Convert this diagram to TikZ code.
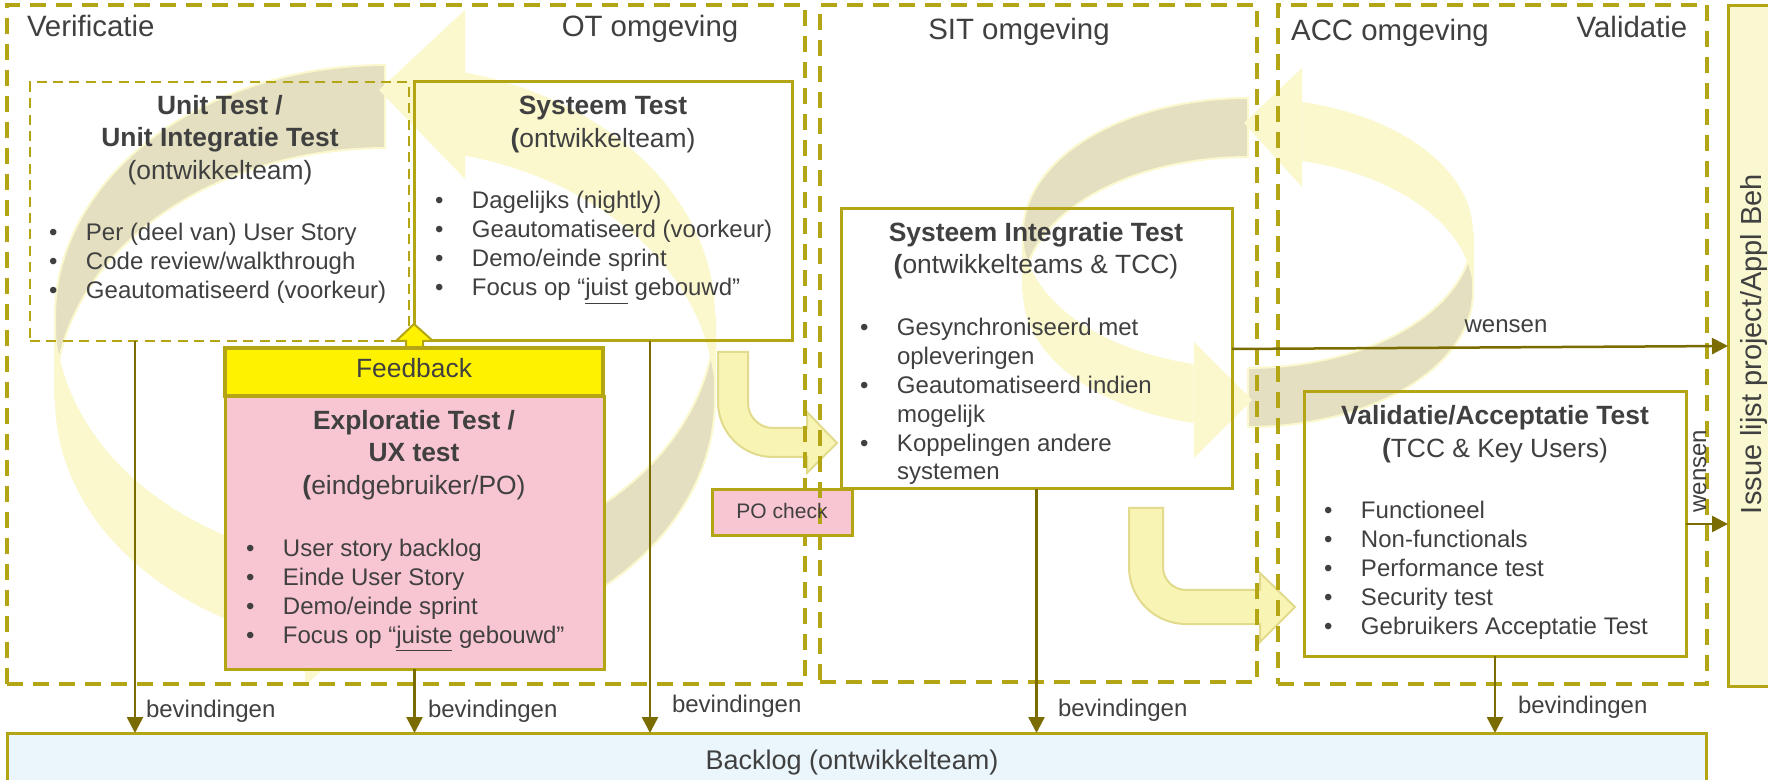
\documentclass[tikz,border=0pt]{standalone}
\usepackage{fontspec}
\setmainfont{Liberation Sans}
\usetikzlibrary{arrows.meta,fit}

\definecolor{frameol}{RGB}{180,165,20}
\definecolor{arrowol}{RGB}{122,108,0}
\definecolor{txtgray}{RGB}{64,64,64}
\definecolor{pinkfill}{RGB}{248,198,210}
\definecolor{backlogfill}{RGB}{234,246,252}
\definecolor{issuefill}{RGB}{250,248,208}
\definecolor{ringlight}{RGB}{250,248,204}
\definecolor{ringdark}{RGB}{227,223,192}
\definecolor{bendfill}{RGB}{248,244,180}
\definecolor{bendline}{RGB}{226,218,140}

\newcommand{\fsz}[1]{\fontsize{#1pt}{#1pt}\selectfont}
\newcommand{\bul}{\makebox[18.5pt][l]{\textbullet}}
\newcommand{\ind}{\hspace*{18.5pt}}
% one segment of a ribbon-shaped cycle arrow: style, cx, rx, ry, upper cy, lower cy, from angle, to angle
\newcommand{\ribbon}[8]{%
  \path[#1] plot[domain=#7:#8, samples=40, variable=\ang] ({#2+#3*cos(\ang)},{#5-#4*sin(\ang)})
    -- plot[domain=#8:#7, samples=40, variable=\ang] ({#2+#3*cos(\ang)},{#6-#4*sin(\ang)}) -- cycle;}

\tikzset{
  boxst/.style={draw=frameol, line width=1.5pt, inner sep=0pt, outer sep=0pt},
  envbox/.style={draw=frameol, line width=2pt, dash pattern=on 8pt off 5pt, inner sep=0pt, outer sep=0pt},
  unitbox/.style={draw=frameol, line width=1.3pt, dash pattern=on 5pt off 3.2pt, inner sep=0pt, outer sep=0pt},
  lbl/.style={text=txtgray, inner sep=0pt, outer sep=0pt, text height=0.72em, text depth=0.12em},
  hdr/.style={lbl, font=\fsz{14.7}},
  ttl/.style={lbl, font=\fsz{13.2}\bfseries},
  subttl/.style={lbl, font=\fsz{13.2}},
  itm/.style={lbl, font=\fsz{12}, anchor=west},
  arr/.style={draw=arrowol, line width=1.25pt, -{Triangle[length=8pt,width=8pt]}},
  ringd/.style={fill=ringdark, draw=ringlight, line width=1pt},
  ringl/.style={fill=ringlight},
  bendarrow/.style={fill=bendfill, draw=bendline, line width=1pt},
}

\begin{document}
\begin{tikzpicture}[x=0.5pt,y=-0.5pt]
\useasboundingbox (0,0) rectangle (1768,780);
\clip (0,0) rectangle (1768,780);
\fill[white] (0,0) rectangle (1768,780);

% ---- cycle in the OT environment
\ribbon{ringd}{385}{330}{251}{316}{399}{90}{180}
\ribbon{ringd}{385}{330}{251}{316}{399}{270}{360}
\ribbon{ringl}{385}{330}{251}{316}{399}{0}{76}
\ribbon{ringl}{385}{330}{251}{316}{399}{180}{256}
\fill[ringlight] (465,10) -- (379,90) -- (465,179) -- cycle;
\fill[ringlight] (305,516) -- (391,605) -- (305,686) -- cycle;

% ---- cycle across SIT and ACC
\ribbon{ringd}{1248}{225}{135}{233}{292}{90}{180}
\ribbon{ringd}{1248}{225}{135}{233}{292}{270}{360}
\ribbon{ringl}{1248}{225}{135}{233}{292}{0}{76}
\ribbon{ringl}{1248}{225}{135}{233}{292}{180}{256}
\fill[ringlight] (1302,68) -- (1244,123) -- (1302,187) -- cycle;
\fill[ringlight] (1194,342) -- (1252,400) -- (1194,458) -- cycle;

% ---- bent hand-over arrows
\path[bendarrow] (718,352) -- (718,402) arc[start angle=180,end angle=90,radius=55]
  -- (807,457) -- (807,473) -- (837,443) -- (807,412) -- (807,428) -- (773,428)
  arc[start angle=90,end angle=180,radius=25] -- (748,352) -- cycle;
\path[bendarrow] (1129,508) -- (1129,567) arc[start angle=180,end angle=90,radius=57]
  -- (1260,624) -- (1260,642) -- (1295,607) -- (1260,573) -- (1260,590) -- (1186,590)
  arc[start angle=90,end angle=180,radius=23] -- (1163,508) -- cycle;

% ---- environments
\node[envbox, fit={(7,5) (805,684)}] (ot) {};
\node[boxst, fill=pinkfill, fit={(712,490) (852,536)}] (po) {};
\node[envbox, fit={(820,5) (1257,682)}] (sitenv) {};
\node[envbox, fit={(1278,5) (1707,684)}] (accenv) {};

% ---- test boxes
\node[unitbox, fit={(30,82) (409,341)}] (unit) {};
\node[boxst, fit={(414,82) (792,341)}] (sys) {};
\node[boxst, fit={(841,209) (1232,489)}] (sit) {};
\node[boxst, fit={(1304,392) (1686,656)}] (val) {};

% feedback block arrow
\draw[fill=yellow, draw=frameol, line width=1pt] (406,349) -- (406,341) -- (396,341) -- (414,324)
  -- (433,341) -- (423,341) -- (423,349);
\node[boxst, fill=pinkfill, fit={(225,397) (604,669)}] (expl) {};
\node[boxst, line width=2pt, fill=yellow, fit={(225,348) (603,396)}] (fb) {};

\node[boxst, fill=backlogfill, fit={(7,733) (1706,800)}] (backlog) {};
\node[boxst, fill=issuefill, fit={(1728,6) (1800,686)}] (issue) {};

% ---- headers
\node[hdr, anchor=west] (hVer) at (27,31) {Verificatie};
\node[hdr] (hOT) at (650,31) {OT omgeving};
\node[hdr] (hSIT) at (1019,34) {SIT omgeving};
\node[hdr] (hACC) at (1390,35) {ACC omgeving};
\node[hdr] (hVal) at (1632,32) {Validatie};

% ---- unit test
\node[ttl] (unitT1) at (220,109) {Unit Test /};
\node[ttl] (unitT2) at (220,141) {Unit Integratie Test};
\node[subttl] (unitT3) at (220,174) {(ontwikkelteam)};
\foreach \txt [count=\i] in {{Per (deel van) User Story},{Code review/walkthrough},{Geautomatiseerd (voorkeur)}}
  \node[itm] (unitB\i) at (49,{235+29*(\i-1)}) {\bul\txt};

% ---- systeem test
\node[ttl] (sysT1) at (603,109) {Systeem Test};
\node[subttl] (sysT2) at (603,142) {\textbf{(}ontwikkelteam)};
\foreach \txt [count=\i] in {{Dagelijks (nightly)},{Geautomatiseerd (voorkeur)},{Demo/einde sprint},{Focus op “\underline{juist} gebouwd”}}
  \node[itm] (sysB\i) at (435,{203+29*(\i-1)}) {\bul\txt};

% ---- feedback / exploratie
\node[subttl] (fbT) at (414,372) {Feedback};
\node[ttl] (explT1) at (414,424) {Exploratie Test /};
\node[ttl] (explT2) at (414,456) {UX test};
\node[subttl] (explT3) at (414,489) {\textbf{(}eindgebruiker/PO)};
\foreach \txt [count=\i] in {{User story backlog},{Einde User Story},{Demo/einde sprint},{Focus op “\underline{juiste} gebouwd”}}
  \node[itm] (explB\i) at (246,{551+28.7*(\i-1)}) {\bul\txt};

\node[lbl, font=\fsz{10.5}] (poT) at (782,513) {PO check};

% ---- systeem integratie test
\node[ttl] (sitT1) at (1036,236) {Systeem Integratie Test};
\node[subttl] (sitT2) at (1036,268) {\textbf{(}ontwikkelteams \& TCC)};
\foreach \txt [count=\i] in {{\bul Gesynchroniseerd met},{\ind opleveringen},{\bul Geautomatiseerd indien},{\ind mogelijk},{\bul Koppelingen andere},{\ind systemen}}
  \node[itm] (sitB\i) at (860,{330+28.8*(\i-1)}) {\txt};

% ---- validatie / acceptatie
\node[ttl] (valT1) at (1495,419) {Validatie/Acceptatie Test};
\node[subttl] (valT2) at (1495,452) {\textbf{(}TCC \& Key Users)};
\foreach \txt [count=\i] in {{Functioneel},{Non-functionals},{Performance test},{Security test},{Gebruikers Acceptatie Test}}
  \node[itm] (valB\i) at (1324,{513+28.75*(\i-1)}) {\bul\txt};

\node[lbl, font=\fsz{13.5}] (backlogT) at (852,763) {Backlog (ontwikkelteam)};
\node[lbl, font=\fsz{14.5}, rotate=90] (issueT) at (1755,344) {Issue lijst project/Appl Beh};

% ---- findings to the backlog
\coordinate (c1) at (135,0);
\coordinate (c3) at (650,0);
\draw[arr] (unit.south -| c1) -- (backlog.north -| c1);
\draw[arr] (expl.south) -- (backlog.north -| expl.south);
\draw[arr] (sys.south -| c3) -- (backlog.north -| c3);
\draw[arr] (sit.south) -- (backlog.north -| sit.south);
\draw[arr] (val.south) -- (backlog.north -| val.south);
\node[itm] (bev1) at (146,711) {bevindingen};
\node[itm] (bev2) at (428,711) {bevindingen};
\node[itm] (bev3) at (672,706) {bevindingen};
\node[itm] (bev4) at (1058,710) {bevindingen};
\node[itm] (bev5) at (1518,707) {bevindingen};

% ---- wishes to the issue list
\draw[arr] (sit.east) -- (issue.west);
\draw[arr] (val.east) -- (val.east -| issue.west);
\node[lbl, font=\fsz{12}] (wens1) at (1506,327) {wensen};
\node[lbl, font=\fsz{12}, rotate=90] (wens2) at (1700,471) {wensen};
\end{tikzpicture}
\end{document}
